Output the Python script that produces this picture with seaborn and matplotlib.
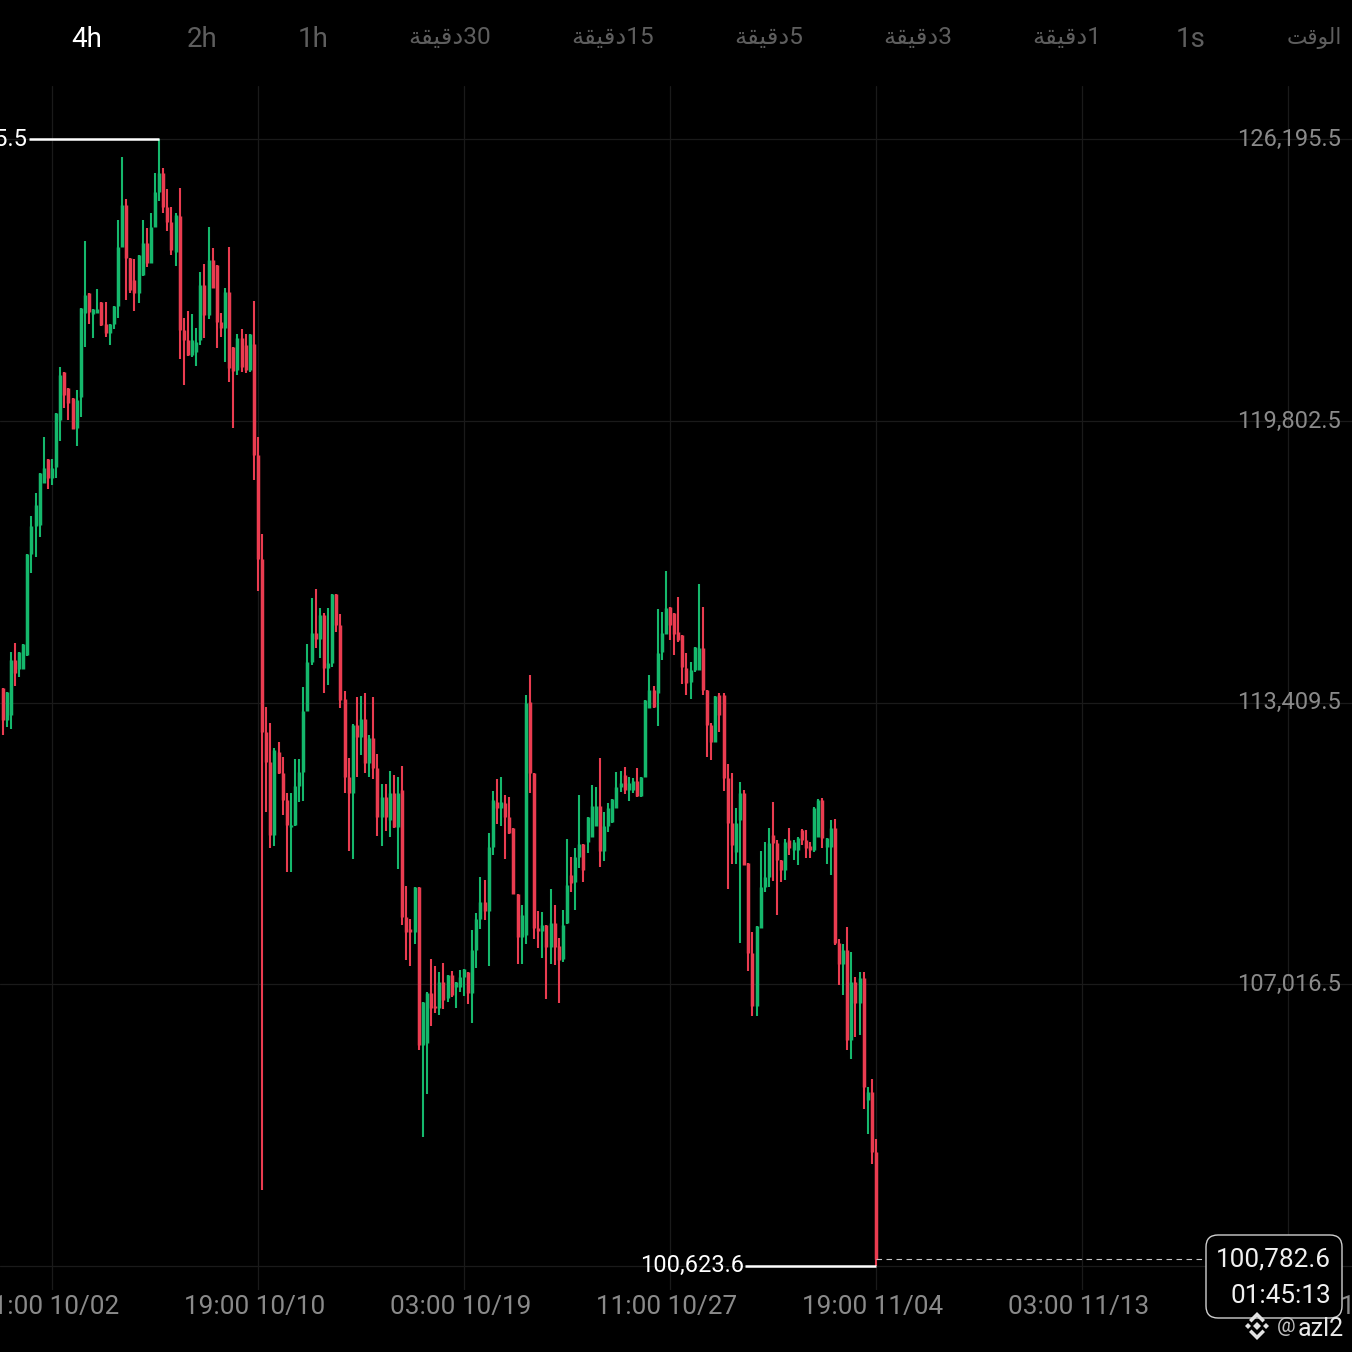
import matplotlib
matplotlib.use("Agg")
import matplotlib.pyplot as plt
import matplotlib.transforms as mtrans
from matplotlib.patches import FancyBboxPatch, Polygon
import pandas as pd
import seaborn as sns

highs = [
113739,113649,114557,114762,114557,114739,116782,117646,118168,118622,
119440,118940,118940,119985,121029,120916,120552,120325,120507,122369,
123891,122710,122347,122801,122506,122506,122006,122415,124368,125798,
124845,123504,123482,123572,124368,124186,124527,125435,126195.5,125548,
125072,124663,124527,125095,122142,122301,122233,121916,123187,123368,
124209,123732,123345,122256,122823,123755,121484,121779,121893,121779,
121779,122528,119440,117237,113308,112945,112377,112514,112172,111355,
111355,112127,112127,113762,114739,115783,115988,115556,115443,115556,
115874,115874,115420,113671,112150,112922,113535,113558,113626,112672,
113535,112240,111559,111559,111855,111764,111718,111968,109243,108494,
109220,109220,106609,106836,107585,107426,107290,107494,107221,107312,
107063,107335,107358,107290,108244,108630,109447,109379,110446,111400,
111673,111718,111309,111264,110560,109061,108811,113580,114034,111809,
108675,108653,108357,109175,108811,108062,108698,110310,109901,110106,
111309,110197,110810,111537,111491,112150,110924,111128,111219,111832,
111855,111945,111718,111696,111922,111718,113467,114034,113785,115534,
115466,116396,115579,115443,115806,114943,114534,114330,114671,116101,
115579,113694,112945,113558,113626,113626,112013,111809,111014,111605,
111423,109765,108199,108334,110037,110242,110560,111151,110288,109833,
110310,110560,110288,110356,110537,110515,110242,111037,111219,111241,
110333,110742,110765,108040,107926,108312,107744,107176,107290,107290,
104678,104860,103497]

lows = [
112672,112854,112809,113785,113989,114171,114466,116351,116714,117169,
118395,118259,118349,118508,119349,120098,119826,119622,119236,119894,
121484,122006,121688,122256,121961,121711,121529,121893,122142,123755,
122551,122710,122301,122483,123096,123300,123391,124209,124799,124527,
124118,123572,123323,121211,120620,121279,121256,121052,121529,121688,
122120,122823,121461,121711,121143,120689,119645,120847,120916,120893,
120916,118463,115942,102339,110924,110106,110152,111786,110855,109561,
109561,110605,111151,111173,113217,114261,114648,114420,113626,113807,
114216,115012,113285,111355,110037,109856,111718,112217,111809,111718,
111673,110378,110152,110492,110356,110560,109629,108357,107562,107426,
107926,105518,103543,104519,106064,106359,106313,106450,106609,106722,
106472,106836,106745,106563,106132,107381,108266,108471,107426,109946,
110651,110605,109856,110424,109061,107471,107471,107926,111355,108040,
107835,107608,106677,107471,107449,106586,107517,108380,109107,108698,
109652,109334,109992,110356,110605,109675,109810,110469,110673,111014,
111378,111332,111173,111355,111264,111264,111718,113285,113285,112877,
114375,114966,114830,114489,114784,113830,113580,113490,114103,114148,
113580,112172,112104,112514,112741,111400,109175,109742,109742,107948,
109719,107312,106291,106291,108289,109107,109220,109357,108584,109334,
109379,109946,109833,109719,110175,109879,109879,110015,110356,110106,
109742,109492,107903,106994,106768,105518,105314,105813,105859,104179,
103611,102929,100623.6]

opens = [
113739,113013,113126,114375,114171,114171,114489,116782,117419,117441,
118395,118940,118508,118758,119826,120916,120552,120325,119645,120348,
122256,122710,122233,122256,122506,122006,121802,122006,122415,123755,
124708,123504,123005,122710,123118,123846,123391,124209,125004,125435,
124663,124323,123641,124459,121870,121643,121301,121370,121643,122891,
122210,123459,123345,122051,121916,122732,121484,120961,121688,121529,
120961,121552,119030,116669,112741,112059,110401,112286,111809,111196,
110583,110628,111514,111832,113217,114330,114989,114853,115397,114193,
114307,115874,115170,113490,111718,111355,112899,112627,113036,112036,
112604,111922,110810,111264,110742,111355,110583,111423,108539,108266,
108199,109220,105632,105677,106813,106518,106472,107063,106699,107221,
106949,106949,107176,107290,106813,107789,108494,108880,108675,110129,
111151,111014,111128,110810,110560,109061,108085,108130,113421,111809,
108289,108221,108357,107858,108403,107881,107585,108403,109492,109334,
109901,110197,110242,110356,110605,111060,110037,110605,110696,111014,
111491,111764,111423,111423,111628,111287,111718,113285,113694,113626,
114557,114966,115579,115443,115012,114943,114193,113875,114148,114148,
114648,113694,112899,112514,113580,113580,111696,110674,110015,110742,
111355,109765,107721,106518,108289,109220,109447,110401,110219,109833,
109606,110288,110060,110060,110515,110288,110152,110060,110356,111196,
110129,110129,110560,107948,107471,107789,105746,107063,106586,107153,
104383,104565,103202]

closes = [
113013,113649,114375,114080,114557,114739,116782,117419,117895,118622,
118735,118508,118735,119985,120847,120393,120212,119622,120280,122369,
122664,122279,122347,122347,121984,121802,122006,122415,123755,124708,
123504,122778,122710,123572,123846,123391,124209,125004,125435,124663,
124323,123686,124481,121870,121643,121301,121643,121598,122891,122210,
123459,122823,122051,121916,122732,121006,120938,121688,121029,120961,
121779,119030,116669,112741,112059,110401,112331,111809,111196,110628,
110628,111514,111832,113217,114330,114989,114853,115397,114193,114307,
115874,115170,113467,111718,111355,112899,112627,113036,112036,112604,
111922,110810,111264,110810,111355,110583,111355,108539,108199,108199,
109220,105632,106609,106813,106472,106472,107063,106654,107221,106768,
107063,107176,107358,106813,107789,108494,108880,108675,110129,111196,
111014,111151,110810,110446,109061,108085,108584,113399,111809,108289,
108221,108357,107858,108403,107858,107562,108357,109266,109311,109901,
110197,109606,110810,111060,111060,110037,110605,111014,111219,111491,
111582,111423,111582,111628,111287,111718,113467,113694,113308,114534,
114989,115556,115170,114966,114830,114216,113853,114148,114671,114648,
113694,112899,112514,113558,113126,111696,110674,110175,110674,111355,
109719,107721,106518,108334,109220,109447,110219,110219,109833,109606,
110242,110106,110242,110333,110288,110106,110060,111014,111196,110333,
110333,110560,107948,107471,107789,105746,107063,106586,107153,104678,
104565,103202,100782.6]

price_ticks = [126195.5, 119802.5, 113409.5, 107016.5, 100623.6]
price_labels = ["126,195.5", "119,802.5", "113,409.5", "107,016.5", "100,623.6"]
time_positions = [12, 62, 112, 162, 212, 262, 312]
time_labels = ["11:00 10/02", "19:00 10/10", "03:00 10/19", "11:00 10/27",
               "19:00 11/04", "03:00 11/13", "11:00 11/21"]
# Arabic presentation forms in visual order: matplotlib does no shaping or bidi
DAQIQA = "\uFE94\uFED8\uFEF4\uFED7\uFEA9"
WAQT = "\uFE96\uFED7\uFEEE\uFEDF\uFE8D"
tabs = ["4h", "2h", "1h", DAQIQA + "30", DAQIQA + "15", DAQIQA + "5",
        DAQIQA + "3", DAQIQA + "1", "1s", WAQT]
tab_centers = [87, 202, 313, 450, 613, 769, 918, 1067, 1191, 1314]
tab_sizes = [20, 20, 20, 17.6, 17.6, 17.6, 17.6, 17.6, 20, 15.6]
tab_rows = [39.5, 39.5, 39.5, 37, 37, 37, 37, 37, 39.5, 38]
last_price = 100782.6
countdown = "01:45:13"

UP, DOWN = "#15B86C", "#EA3C50"
GRID = "#1A1A1A"
sns.set_theme(style="darkgrid", rc={
    "figure.facecolor": "black", "axes.facecolor": "black",
    "savefig.facecolor": "black", "grid.color": GRID, "grid.linewidth": 0.9,
    "axes.edgecolor": "black", "axes.linewidth": 0,
})
FONT = ["Roboto", "DejaVu Sans"]
plt.rcParams["font.family"] = FONT

n = len(closes)
idx = list(range(n))
direction = ["up" if c >= o else "down" for o, c in zip(opens, closes)]
wick = pd.DataFrame({"k": idx * 2, "price": highs + lows, "dir": direction * 2})
body = pd.DataFrame({"k": idx * 2, "price": opens + closes, "dir": direction * 2})

fig = plt.figure(figsize=(13.52, 13.52), dpi=100)
ax = fig.add_axes([0, 62 / 1352, 1, 1204 / 1352])
palette = {"up": UP, "down": DOWN}
for frame, width in ((wick, 1.5), (body, 2.5)):
    sns.lineplot(data=frame, x="k", y="price", hue="dir", units="k", estimator=None,
                 sort=False, palette=palette, legend=False, linewidth=width,
                 solid_capstyle="butt", ax=ax, zorder=3)

ax.set_xlim(-0.621, 327.53)
ax.set_ylim(100067.6, 127410.4)
ax.set_xlabel("")
ax.set_ylabel("")
ax.set_xticks(time_positions, time_labels)
ax.set_yticks(price_ticks, price_labels)
ax.grid(True, color=GRID, linewidth=0.9)
ax.tick_params(axis="x", length=0, pad=3.6, labelsize=18.8, labelcolor="#8A8A8A")
ax.tick_params(axis="y", length=0, pad=-8, labelsize=17, labelcolor="#8A8A8A",
               labelleft=False, labelright=True)
shift = mtrans.ScaledTranslation(-3.5 / 100, 0, fig.dpi_scale_trans)
for lab in ax.get_xticklabels():
    lab.set_transform(lab.get_transform() + shift)
up_shift = mtrans.ScaledTranslation(0, 2.5 / 100, fig.dpi_scale_trans)
for lab in ax.get_yticklabels():
    lab.set_ha("right")
    lab.set_transform(lab.get_transform() + up_shift)

# extreme-price markers and last-price line
hi_k = highs.index(max(highs))
lo_k = lows.index(min(lows))
ax.plot([hi_k - 31.7, hi_k], [max(highs)] * 2, color="white", lw=1.8, zorder=4,
        solid_capstyle="butt")
ax.plot([lo_k - 31.7, lo_k], [min(lows)] * 2, color="white", lw=1.8, zorder=4,
        solid_capstyle="butt")
ax.text(hi_k - 32, max(highs), "126,195.5", color="white", fontsize=17, ha="right",
        va="center", zorder=5)
ax.text(lo_k - 32, min(lows), "100,623.6", color="white", fontsize=17, ha="right",
        va="center", zorder=5)
ax.plot([n - 1, 292], [last_price] * 2, color="#C8C8C8", lw=0.8, ls=(0, (5, 4)), zorder=4)

# pixel-based overlay for the tab bar, price box and watermark
px = mtrans.Affine2D().scale(1 / 1352, -1 / 1352).translate(0, 1) + fig.transFigure
for i, (label, cx) in enumerate(zip(tabs, tab_centers)):
    fig.text(cx, tab_rows[i], label, transform=px, ha="center", va="center",
             fontsize=tab_sizes[i], color="white" if i == 0 else "#5E5E5E", family=FONT)

box = FancyBboxPatch((1206, 1235), 136, 83, boxstyle="round,pad=0,rounding_size=12",
                     transform=px, facecolor="black", edgecolor="#CFCFCF", linewidth=1,
                     zorder=6)
fig.add_artist(box)
fig.text(1331, 1260, f"{last_price:,.1f}", transform=px, ha="right", va="center",
         fontsize=18.8, color="#F0F0F0", zorder=7)
fig.text(1331, 1296, countdown, transform=px, ha="right", va="center",
         fontsize=18.8, color="#F0F0F0", zorder=7)

ICON = "#E2E2E2"
cx, cy = 1257, 1326
shapes = [
    [(0, -4), (4, 0), (0, 4), (-4, 0)],
    [(-9, -3), (-6, 0), (-9, 3), (-12, 0)],
    [(9, -3), (12, 0), (9, 3), (6, 0)],
    [(0, -14), (8, -6), (5.5, -3.5), (0, -9), (-5.5, -3.5), (-8, -6)],
    [(0, 14), (8, 6), (5.5, 3.5), (0, 9), (-5.5, 3.5), (-8, 6)],
]
for shape in shapes:
    fig.add_artist(Polygon([(cx + a, cy + b) for a, b in shape], closed=True, transform=px,
                           facecolor=ICON, edgecolor="none", zorder=7))
fig.text(1344, 1329, "azl2", transform=px, ha="right", va="center", fontsize=18,
         color="#E8E8E8", zorder=7)
fig.text(1277, 1327, "@", transform=px, ha="left", va="center", fontsize=15,
         color="#BDBDBD", zorder=7)

fig.savefig("out.png", dpi=100, facecolor="black")
